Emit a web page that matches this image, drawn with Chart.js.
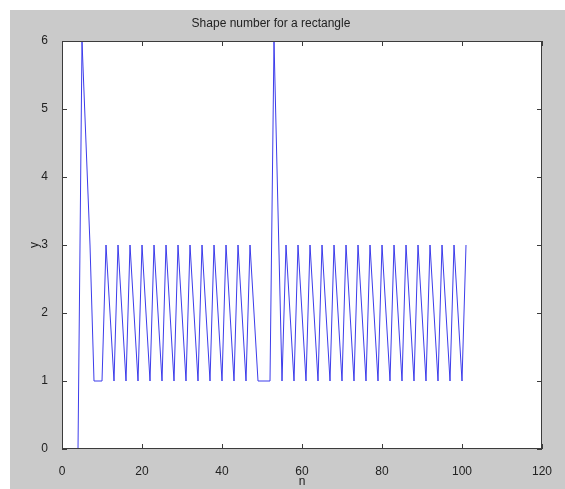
<!DOCTYPE html>
<html>
<head>
<meta charset="utf-8">
<title>Shape number for a rectangle</title>
<script src="https://cdn.jsdelivr.net/npm/chart.js@4/dist/chart.umd.min.js"></script>
<style>
  html, body { margin: 0; padding: 0; background: #ffffff; }
  #chart { display: block; }
</style>
</head>
<body>
<canvas id="chart" width="565" height="489"></canvas>
<script>
// shape number values, one per boundary step n = 1..101
const shapeNumber = [
  0, 0, 0, 0, 6, 4.5, 3, 1, 1, 1,
  3, 2, 1, 3, 2, 1, 3, 2, 1, 3, 2, 1, 3, 2, 1, 3, 2, 1, 3, 2, 1,
  3, 2, 1, 3, 2, 1, 3, 2, 1, 3, 2, 1, 3, 2, 1, 3, 2, 1,
  1, 1, 1, 6, 3.5, 1,
  3, 2, 1, 3, 2, 1, 3, 2, 1, 3, 2, 1, 3, 2, 1, 3, 2, 1, 3, 2, 1, 3, 2, 1,
  3, 2, 1, 3, 2, 1, 3, 2, 1, 3, 2, 1, 3, 2, 1, 3, 2, 1, 3, 2, 1, 3
];
const xTicks = [0, 20, 40, 60, 80, 100, 120];
const yTicks = [0, 1, 2, 3, 4, 5, 6];

const points = shapeNumber.map((v, i) => ({ x: i + 1, y: v }));

// grey figure, white axes, box with inward ticks (matlab look)
const axesBox = {
  id: 'axesBox',
  beforeDraw(chart) {
    const { ctx, chartArea: a } = chart;
    ctx.save();
    ctx.fillStyle = '#cacaca';
    ctx.fillRect(10, 10, chart.width - 10, chart.height - 10);
    ctx.fillStyle = '#ffffff';
    ctx.fillRect(a.left, a.top, a.right - a.left, a.bottom - a.top);
    ctx.restore();
  },
  afterDraw(chart) {
    const { ctx, chartArea: a, scales } = chart;
    ctx.save();
    ctx.strokeStyle = '#3c3c3c';
    ctx.lineWidth = 1;
    ctx.strokeRect(a.left + 0.5, a.top + 0.5, a.right - a.left - 1, a.bottom - a.top - 1);
    ctx.beginPath();
    scales.x.ticks.forEach(t => {
      const px = Math.round(scales.x.getPixelForValue(t.value)) + 0.5;
      ctx.moveTo(px, a.bottom); ctx.lineTo(px, a.bottom - 5);
      ctx.moveTo(px, a.top); ctx.lineTo(px, a.top + 5);
    });
    scales.y.ticks.forEach(t => {
      const py = Math.round(scales.y.getPixelForValue(t.value)) + 0.5;
      ctx.moveTo(a.left, py); ctx.lineTo(a.left + 5, py);
      ctx.moveTo(a.right, py); ctx.lineTo(a.right - 5, py);
    });
    ctx.stroke();
    ctx.restore();
  }
};

const font = { family: "'Liberation Sans', Arial, sans-serif", size: 12, weight: 'normal' };

new Chart(document.getElementById('chart'), {
  type: 'line',
  data: {
    datasets: [{
      data: points,
      borderColor: 'rgb(60, 60, 235)',
      borderWidth: 1,
      pointRadius: 0,
      tension: 0,
      fill: false
    }]
  },
  options: {
    responsive: false,
    animation: false,
    devicePixelRatio: 1,
    layout: { padding: { top: 0, right: 23, bottom: 0, left: 0 } },
    plugins: {
      legend: { display: false },
      tooltip: { enabled: false },
      title: {
        display: true,
        text: 'Shape number for a rectangle',
        color: '#222',
        font: font,
        padding: { top: 16, bottom: 10.6 }
      }
    },
    scales: {
      x: {
        type: 'linear',
        min: 0,
        max: 120,
        afterBuildTicks: s => { s.ticks = xTicks.map(v => ({ value: v })); },
        afterFit: s => { s.height = 40; },
        grid: { display: false },
        border: { display: false },
        ticks: { color: '#222', font: font, padding: 7, maxRotation: 0 },
        title: { display: true, text: 'n', color: '#222', font: font, padding: { top: 0, bottom: 0 } }
      },
      y: {
        min: 0,
        max: 6,
        afterBuildTicks: s => { s.ticks = yTicks.map(v => ({ value: v })); },
        afterFit: s => { s.width = 62; },
        grid: { display: false },
        border: { display: false },
        ticks: { color: '#222', font: font, padding: 6 },
        title: { display: true, text: 'y', color: '#222', font: font, padding: { top: 27, bottom: 0 } }
      }
    }
  },
  plugins: [axesBox]
});
</script>
</body>
</html>
